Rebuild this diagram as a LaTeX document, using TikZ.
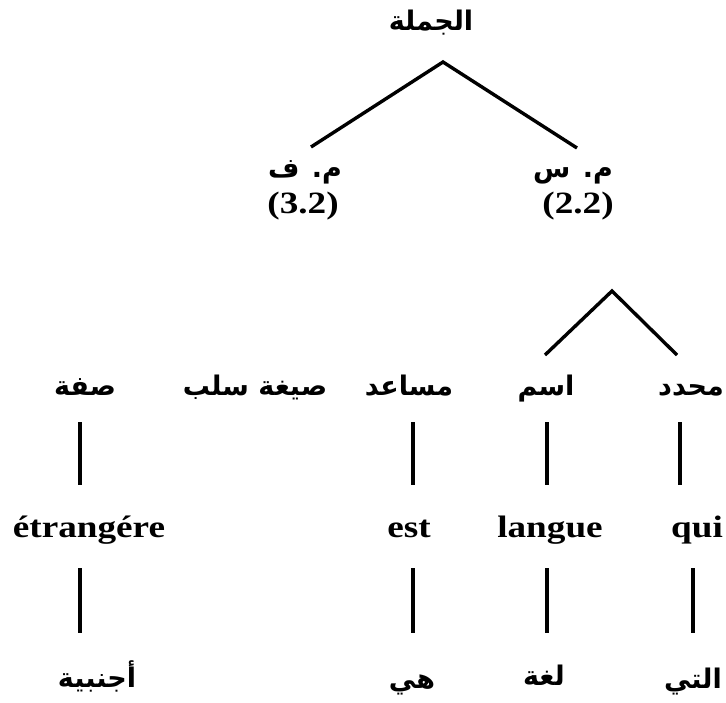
\documentclass[tikz,border=0pt]{standalone}
\usepackage{fontspec}
\usetikzlibrary{calc}
\TeXXeTstate=1
\newfontfamily\arabicfont[Script=Arabic]{DejaVu Sans}
\newfontfamily\latinfont[FakeStretch=1.2]{Liberation Serif}
\newcommand{\ar}[1]{\arabicfont\bfseries\beginR #1\endR}
\tikzset{
  arlabel/.style={inner sep=0pt, anchor=base, font=\fontsize{27}{29}\selectfont},
  frlabel/.style={inner sep=0pt, anchor=base, font=\latinfont\bfseries\fontsize{31}{33}\selectfont},
  edge/.style={line width=3.4pt, line cap=butt, line join=miter}
}
\begin{document}
\begin{tikzpicture}[x=1pt, y=-1pt]
\useasboundingbox[fill=white] (0,0) rectangle (726,702);

% root and the two phrases
\node[arlabel] (title) at (431,30) {\ar{الجملة}};
\node[arlabel] (mf) at (305,177) {\ar{م. ف}};
\node[arlabel] (ms) at (573,177) {\ar{م. س}};
\node[frlabel] (p32) at (303,213) {(3.2)};
\node[frlabel] (p22) at (578,213) {(2.2)};

% categories
\node[arlabel] (sifa) at (85,395) {\ar{صفة}};
\node[arlabel] (sigha) at (255,395) {\ar{صيغة سلب}};
\node[arlabel] (musaid) at (409,395) {\ar{مساعد}};
\node[arlabel] (ism) at (546,395) {\ar{اسم}};
\node[arlabel, anchor=base east] (muhaddid) at (724,395) {\ar{محدد}};

% French words
\node[frlabel] (etr) at (89,537) {étrangére};
\node[frlabel] (est) at (409,537) {est};
\node[frlabel] (langue) at (550,537) {langue};
\node[frlabel] (qui) at (697,537) {qui};

% Arabic words
\node[arlabel] (ajnabiya) at (97,687) {\ar{أجنبية}};
\node[arlabel] (hiya) at (412,688) {\ar{هي}};
\node[arlabel] (lugha) at (544,685) {\ar{لغة}};
\node[arlabel] (allati) at (693,688) {\ar{التي}};

% branches
\coordinate (apex) at ($(title.base)+(12,32)$);
\draw[edge] ($(mf.base)+(6,-30)$) -- (apex) -- ($(ms.base)+(4,-29)$);
\coordinate (apex2) at ($(p22.base)+(34,78)$);
\draw[edge] ($(ism.base)+(-1,-40)$) -- (apex2) -- ($(muhaddid.base east)+(-47,-40)$);

% vertical links
\draw[edge] ($(sifa.base)+(-5,27)$) -- ($(etr.base)+(-9,-52)$);
\draw[edge] ($(musaid.base)+(4,27)$) -- ($(est.base)+(4,-52)$);
\draw[edge] ($(ism.base)+(1,27)$) -- ($(langue.base)+(-3,-52)$);
\draw[edge] ($(muhaddid.base east)+(-44,27)$) -- ($(qui.base)+(-17,-52)$);

\draw[edge] ($(etr.base)+(-9,31)$) -- ($(ajnabiya.base)+(-17,-54)$);
\draw[edge] ($(est.base)+(4,31)$) -- ($(hiya.base)+(1,-55)$);
\draw[edge] ($(langue.base)+(-3,31)$) -- ($(lugha.base)+(3,-52)$);
\draw[edge] ($(qui.base)+(-4,31)$) -- ($(allati.base)+(0,-55)$);
\end{tikzpicture}
\end{document}
